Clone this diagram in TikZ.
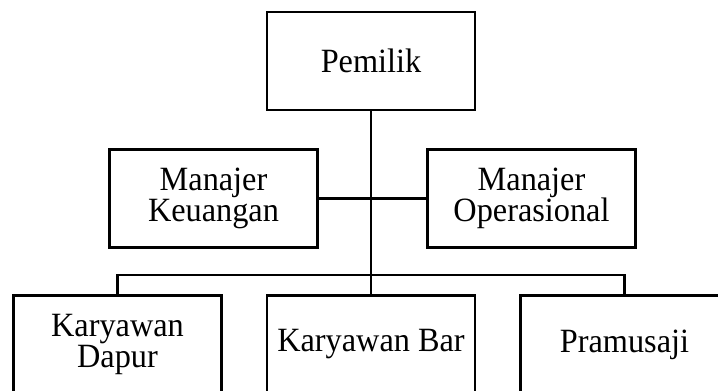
\documentclass[tikz,border=0pt]{standalone}
\usepackage{fontspec}
\setmainfont[FakeStretch=0.95]{Liberation Serif}
\begin{document}
\begin{tikzpicture}[x=1pt,y=-1pt,
  orgbox/.style={draw=black, line width=2.4pt, fill=white, minimum width=208pt, minimum height=98pt, inner sep=0pt, align=center,
    font=\fontsize{34}{31}\selectfont, text=black},
  link/.style={draw=black, line width=2.4pt}]
\clip (0,0) rectangle (718,391);
\fill[white] (0,0) rectangle (718,391);
\node[orgbox] (P) at (371,61) {Pemilik};
\node[orgbox] (MK) at (213.5,198.5) {Manajer\\Keuangan};
\node[orgbox] (MO) at (531.5,198.5) {Manajer\\Operasional};
\node[orgbox] (KD) at (117.5,344.5) {Karyawan\\Dapur};
\node[orgbox] (KB) at (371,344.5) {Karyawan Bar};
\node[orgbox] (PR) at (624.5,344.5) {Pramusaji};
\coordinate (bus) at (371,275);
\draw[link] (P.south) -- (KB.north);
\draw[link] (MK.east) -- (MO.west);
\draw[link] (KD.north) |- (bus) -| (PR.north);
\end{tikzpicture}
\end{document}
